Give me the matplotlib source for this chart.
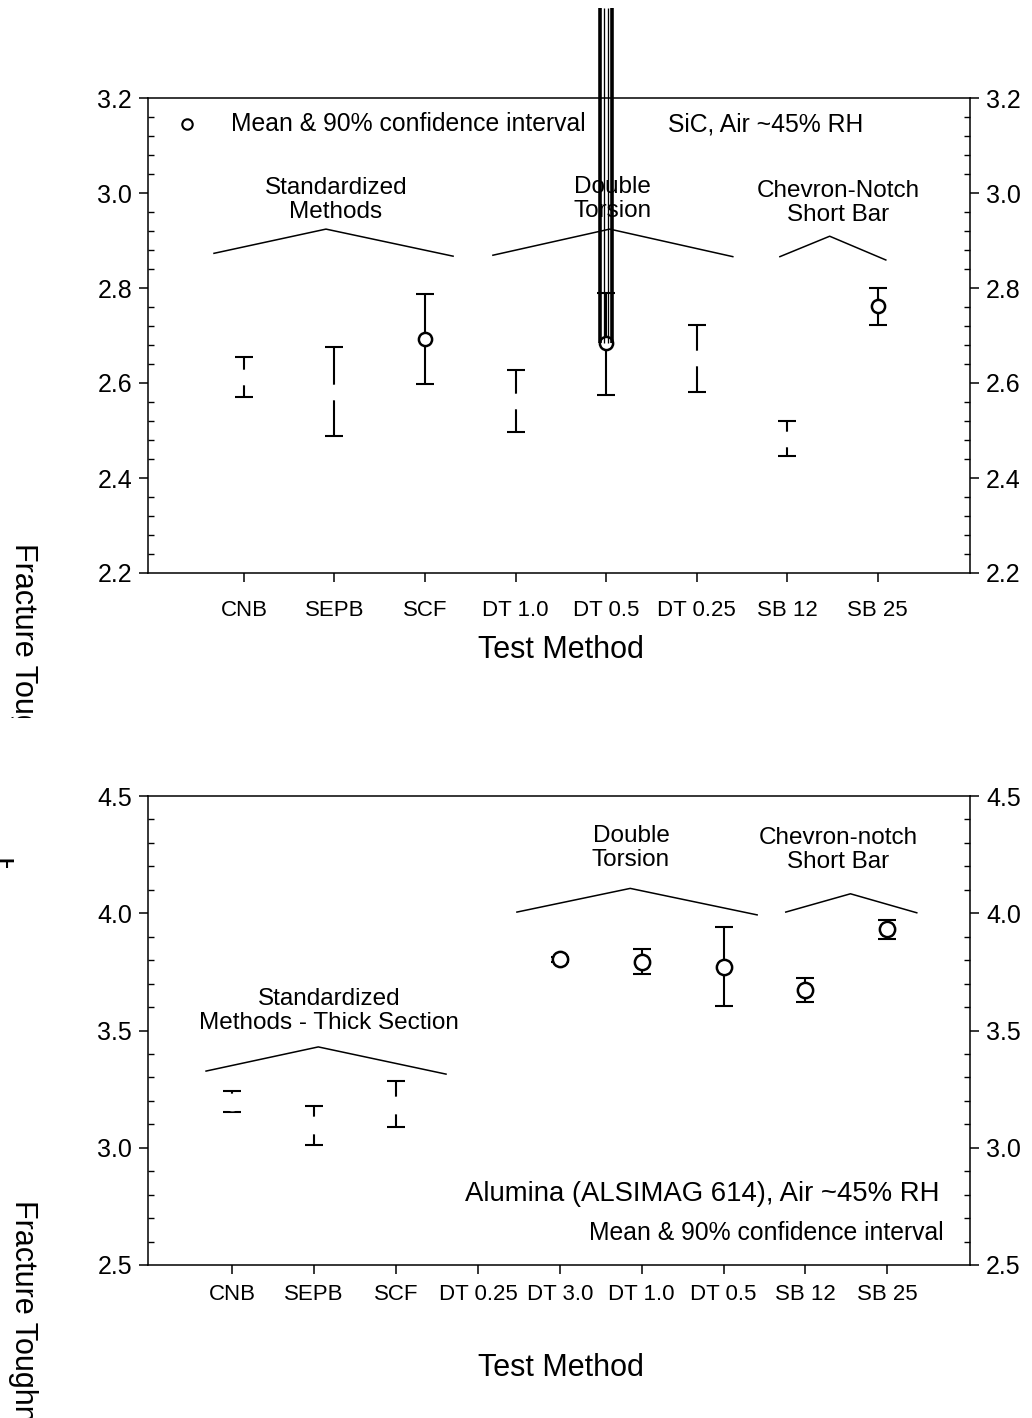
import numpy as np
import matplotlib
matplotlib.use("Agg")
import matplotlib.pyplot as plt
from matplotlib.ticker import MultipleLocator, FixedLocator
from matplotlib.transforms import Bbox, TransformedBbox, offset_copy

plt.rcParams['font.family'] = ['Liberation Sans', 'DejaVu Sans']

# ---------------- data: SiC (top) ----------------
top_cats = ['CNB', 'SEPB', 'SCF', 'DT 1.0', 'DT 0.5', 'DT 0.25', 'SB 12', 'SB 25']
top_mean = [2.613, 2.582, 2.693, 2.563, 2.684, 2.653, 2.482, 2.763]
top_low = [2.571, 2.488, 2.598, 2.4975, 2.575, 2.582, 2.446, 2.723]
top_up = [2.654, 2.676, 2.787, 2.628, 2.790, 2.723, 2.520, 2.801]
top_marker_visible = [False, False, True, False, True, False, False, True]

# group brackets (x in category units, y in data units)
top_brk_std_x = [0.669, 1.906, 3.31]
top_brk_std_y = [2.873, 2.924, 2.867]
top_brk_dt_x = [3.75, 5.04, 6.40]
top_brk_dt_y = [2.869, 2.924, 2.866]
top_brk_sb_x = [6.92, 7.47, 8.09]
top_brk_sb_y = [2.866, 2.909, 2.859]

# ---------------- data: Alumina (bottom) ----------------
bot_cats = ['CNB', 'SEPB', 'SCF', 'DT 0.25', 'DT 3.0', 'DT 1.0', 'DT 0.5', 'SB 12', 'SB 25']
bot_mean = [3.196, 3.096, 3.184, np.nan, 3.803, 3.792, 3.772, 3.673, 3.931]
bot_low = [3.151, 3.012, 3.090, np.nan, 3.790, 3.740, 3.604, 3.622, 3.892]
bot_up = [3.241, 3.178, 3.283, np.nan, 3.815, 3.848, 3.943, 3.725, 3.971]
bot_marker_visible = [False, False, False, False, True, True, True, True, True]

bot_brk_std_x = [0.679, 2.05, 3.61]
bot_brk_std_y = [3.327, 3.430, 3.314]
bot_brk_dt_x = [4.476, 5.86, 7.41]
bot_brk_dt_y = [4.005, 4.106, 3.993]
bot_brk_sb_x = [7.76, 8.55, 9.36]
bot_brk_sb_y = [4.005, 4.083, 4.002]

W, H = 1032, 1418
fig = plt.figure(figsize=(W / 100, H / 100), dpi=100)
ax1 = fig.add_axes([148 / W, (H - 573) / H, 822 / W, 475 / H])
ax2 = fig.add_axes([148 / W, (H - 1265) / H, 822 / W, 469 / H])


def style_axes(ax, cats, ylim, major, minor, xlim, xpad):
    ax.set_xlim(*xlim)
    ax.set_ylim(*ylim)
    for s in ax.spines.values():
        s.set_linewidth(1.1)
    pos = np.arange(1, len(cats) + 1)
    ax.xaxis.set_major_locator(FixedLocator(pos))
    ax.set_xticklabels(cats)
    ax.yaxis.set_major_locator(MultipleLocator(major))
    ax.yaxis.set_minor_locator(MultipleLocator(minor))
    ax.yaxis.set_major_formatter(matplotlib.ticker.FormatStrFormatter('%.1f'))
    ax.tick_params(axis='x', which='major', direction='out', length=6.5, width=1.1,
                   labelsize=16, pad=xpad, top=False)
    ax.tick_params(axis='y', which='major', direction='out', length=6.5, width=1.1,
                   labelsize=18, pad=5, left=True, right=True, labelleft=True, labelright=True)
    ax.tick_params(axis='y', which='minor', direction='in', length=4, width=1.0,
                   left=True, right=True)
    ax.tick_params(axis='x', which='minor', bottom=False, top=False)


style_axes(ax1, top_cats, (2.2, 3.2), 0.2, 0.04, (-0.06, 9.02), 13)
style_axes(ax2, bot_cats, (2.5, 4.5), 0.5, 0.1, (-0.03, 10.01), 7)


def draw_points(ax, mean, low, up, vis, ms, mew):
    x = np.arange(1, len(mean) + 1)
    mean = np.array(mean, dtype=float)
    low = np.array(low, dtype=float)
    up = np.array(up, dtype=float)
    vis = np.array(vis)
    yerr = np.vstack([mean - low, up - mean])
    ax.errorbar(x, mean, yerr=yerr, fmt='none', ecolor='black', elinewidth=1.5,
                capsize=6.3, capthick=1.5, zorder=3)
    ax.plot(x[~vis], mean[~vis], 'o', ms=ms, mfc='white', mec='white', mew=mew,
            ls='none', zorder=4)
    ax.plot(x[vis], mean[vis], 'o', ms=ms, mfc='white', mec='black', mew=mew,
            ls='none', zorder=5)


draw_points(ax1, top_mean, top_low, top_up, top_marker_visible, 9.5, 1.8)
draw_points(ax2, bot_mean, bot_low, bot_up, bot_marker_visible, 11.0, 1.8)

for ax, bx, by in [(ax1, top_brk_std_x, top_brk_std_y), (ax1, top_brk_dt_x, top_brk_dt_y),
                   (ax1, top_brk_sb_x, top_brk_sb_y), (ax2, bot_brk_std_x, bot_brk_std_y),
                   (ax2, bot_brk_dt_x, bot_brk_dt_y), (ax2, bot_brk_sb_x, bot_brk_sb_y)]:
    ax.plot(bx, by, color='black', lw=1.1, zorder=3)

afs = 17.5
ls = 1.13
ax1.text(2.016, 2.985, 'Standardized\nMethods', ha='center', va='center', fontsize=afs, linespacing=ls)
ax1.text(5.075, 2.987, 'Double\nTorsion', ha='center', va='center', fontsize=afs, linespacing=ls)
ax1.text(7.56, 2.979, 'Chevron-Notch\nShort Bar', ha='center', va='center', fontsize=afs, linespacing=ls)
ax1.plot([0.047], [0.945], 'o', ms=7.5, mfc='white', mec='black', mew=1.5, transform=ax1.transAxes)
ax1.text(0.101, 0.945, 'Mean & 90% confidence interval', transform=ax1.transAxes,
         ha='left', va='center', fontsize=17.8)
ax1.text(0.633, 0.945, 'SiC, Air ~45% RH', transform=ax1.transAxes,
         ha='left', va='center', fontsize=17.8)

ax2.text(2.184, 3.583, 'Standardized\nMethods - Thick Section', ha='center', va='center',
         fontsize=afs, linespacing=ls)
ax2.text(5.87, 4.278, 'Double\nTorsion', ha='center', va='center', fontsize=afs, linespacing=ls)
ax2.text(8.40, 4.27, 'Chevron-notch\nShort Bar', ha='center', va='center', fontsize=afs, linespacing=ls)
ax2.text(0.9635, 0.151, 'Alumina (ALSIMAG 614), Air ~45% RH', transform=ax2.transAxes,
         ha='right', va='center', fontsize=19.8)
ax2.text(0.968, 0.068, 'Mean & 90% confidence interval', transform=ax2.transAxes,
         ha='right', va='center', fontsize=17.8)

for ax, yy in [(ax1, -0.162), (ax2, -0.2196)]:
    ax.text(0.502, yy, 'Test Method', transform=ax.transAxes, ha='center', va='center', fontsize=22)

# smeared marker artefact above DT 0.5 (top panel)
i_art = top_cats.index('DT 0.5')
x_art = i_art + 1
y_art = top_mean[i_art]
y_top = 3.2 + 90 / 475
for dx_px, lw_px in [(-6.3, 3.6), (-1.7, 1.3), (1.7, 1.3), (6.3, 3.6)]:
    tr = offset_copy(ax1.transData, fig=fig, x=dx_px * 0.72, y=0, units='points')
    ax1.plot([x_art, x_art], [y_art, y_top], color='black', lw=lw_px * 0.72,
             transform=tr, clip_on=False, zorder=6, solid_capstyle='butt')


# clipped y-axis label fragments on the left edge
def clipped_label(text, xc_px, ytop_px, clip_y0_px, clip_y1_px, fs=22, clip_x1_px=60):
    t = fig.text(xc_px / W, 1 - ytop_px / H, text, rotation=-90, ha='center', va='top',
                 fontsize=fs, clip_on=True)
    bb = Bbox([[0, 1 - clip_y1_px / H], [clip_x1_px / W, 1 - clip_y0_px / H]])
    t.set_clip_box(TransformedBbox(bb, fig.transFigure))
    return t


clipped_label('Fracture Toughness', 23, 543, 530, 718)
clipped_label('Fracture Toughness', 23, 1200, 1190, 1418)
clipped_label('F', 1, 858, 850, 868, clip_x1_px=14)

fig.savefig('out.png', dpi=100)
